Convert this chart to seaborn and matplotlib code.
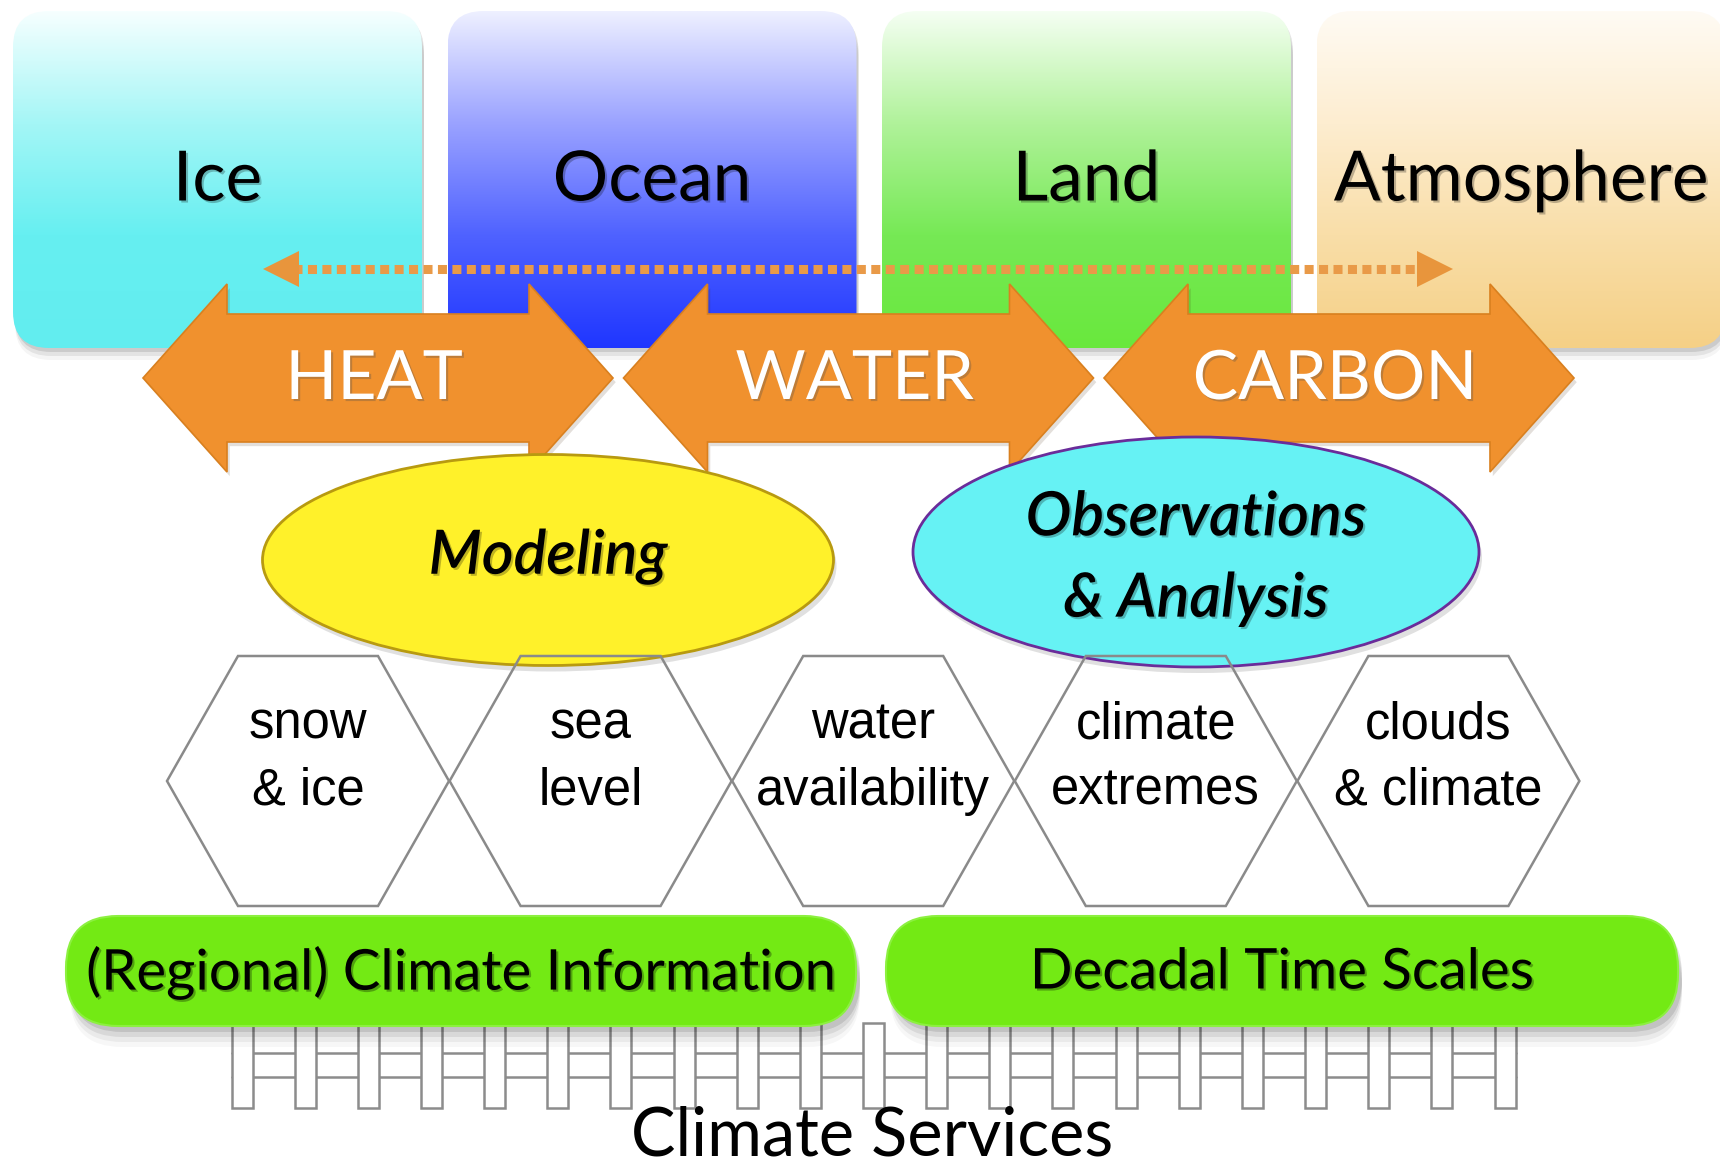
import numpy as np
import matplotlib
matplotlib.use("Agg")
import matplotlib.pyplot as plt
import matplotlib.patheffects as pe
from matplotlib.patches import FancyBboxPatch, Polygon, Ellipse, Rectangle
import seaborn as sns

sns.set_style("white")
plt.rcParams['font.family'] = ['Lato', 'DejaVu Sans']

# -------------------------------------------------
# Diagram content
# -------------------------------------------------
realms = ["Ice", "Ocean", "Land", "Atmosphere"]
realm_colors = [
    ["#F6FFFF", "#A4F6F6", "#66EFF1", "#62EDEF"],
    ["#EEF0FF", "#9AA2FF", "#4F62FF", "#1F36FF"],
    ["#F5FFF3", "#B0F29A", "#76E955", "#69E83D"],
    ["#FFFBF4", "#FDEDD0", "#F9DEA8", "#F5D086"],
]
fluxes = ["HEAT", "WATER", "CARBON"]
activities = ["Modeling", "Observations\n& Analysis"]
activity_colors = ["#FFF12A", "#66F2F4"]
activity_edges = ["#B89A10", "#6A2C9A"]
challenges = ["snow\n& ice", "sea\nlevel", "water\navailability",
              "climate\nextremes", "clouds\n& climate"]
outcomes = ["(Regional) Climate Information", "Decadal Time Scales"]
n_ties = 21
footer = "Climate Services"

ORANGE = "#F0912E"
GREEN = "#73EA14"
W, H = 1720, 1176

fig = plt.figure(figsize=(W / 100, H / 100), dpi=100)
ax = fig.add_axes([0, 0, 1, 1])
ax.set_axis_off()

# -------------------------------------------------
# Realm boxes with vertical gradients
# -------------------------------------------------
box_w, box_gap, box_top, box_bot = 409, 25.5, 11, 348
for i, (name, cols) in enumerate(zip(realms, realm_colors)):
    x0 = 13 + i * (box_w + box_gap)
    for k, a in enumerate([0.10, 0.07, 0.04]):
        sh = FancyBboxPatch((x0 + 2, box_top + 4 + 4 * k), box_w, box_bot - box_top,
                            boxstyle="round,pad=0,rounding_size=36",
                            fc="black", ec="none", alpha=a, zorder=0.5)
        ax.add_patch(sh)
    patch = FancyBboxPatch((x0, box_top), box_w, box_bot - box_top,
                           boxstyle="round,pad=0,rounding_size=36",
                           fc="none", ec="none", zorder=1)
    ax.add_patch(patch)
    cmap = sns.blend_palette(cols, as_cmap=True)
    grad = np.linspace(0, 1, 256).reshape(-1, 1)
    im = ax.imshow(grad, cmap=cmap, aspect="auto", origin="upper",
                   extent=[x0, x0 + box_w, box_bot, box_top], zorder=1)
    im.set_clip_path(patch)
    ax.text(x0 + box_w / 2, 181, name, ha="center", va="center",
            fontsize=50, color="black", zorder=6,
            path_effects=[pe.withSimplePatchShadow(offset=(1.5, -1.5), alpha=0.25)])

# -------------------------------------------------
# Dotted connector arrow across the realms
# -------------------------------------------------
dot_y, dot_x0, dot_x1 = 269, 263, 1453
ax.plot([dot_x0 + 30, dot_x1 - 30], [dot_y, dot_y], color="#E99A48", lw=6.5,
        dashes=(1.0, 0.6), solid_capstyle="butt", zorder=2)
ax.add_patch(Polygon([[dot_x0, dot_y], [dot_x0 + 36, dot_y - 18], [dot_x0 + 36, dot_y + 18]],
                     closed=True, fc="#E8953C", ec="none", zorder=2))
ax.add_patch(Polygon([[dot_x1, dot_y], [dot_x1 - 36, dot_y - 18], [dot_x1 - 36, dot_y + 18]],
                     closed=True, fc="#E8953C", ec="none", zorder=2))

# -------------------------------------------------
# Double-headed flux arrows
# -------------------------------------------------
arr_y, arr_len, arr_step, arr_x0 = 378, 470, 480.5, 143
hl, hh, hb = 84, 94, 64
for i, name in enumerate(fluxes):
    a0 = arr_x0 + i * arr_step
    a1 = a0 + arr_len
    pts = [[a0, arr_y], [a0 + hl, arr_y - hh], [a0 + hl, arr_y - hb],
           [a1 - hl, arr_y - hb], [a1 - hl, arr_y - hh], [a1, arr_y],
           [a1 - hl, arr_y + hh], [a1 - hl, arr_y + hb], [a0 + hl, arr_y + hb],
           [a0 + hl, arr_y + hh]]
    ax.add_patch(Polygon(pts, closed=True, fc=ORANGE, ec="#D9801F", lw=1.2, zorder=3,
                         path_effects=[pe.withSimplePatchShadow(offset=(2, -3), alpha=0.15)]))
    ax.text((a0 + a1) / 2 - 4, arr_y + 2, name, ha="center", va="center",
            fontsize=49, color="white", zorder=4,
            path_effects=[pe.withSimplePatchShadow(offset=(1.5, -1.5), alpha=0.3)])

# -------------------------------------------------
# Activity ellipses
# -------------------------------------------------
ell_centers = [(548, 560), (1196, 552)]
ell_sizes = [(571, 211), (566, 230)]
text_y = [556, 558]
for (cx, cy), (ew, eh), ty, name, fc, ec in zip(ell_centers, ell_sizes, text_y, activities,
                                                activity_colors, activity_edges):
    ax.add_patch(Ellipse((cx + 3, cy + 6), ew, eh, fc="black", ec="none", alpha=0.12, zorder=4.5))
    ax.add_patch(Ellipse((cx, cy), ew, eh, fc=fc, ec=ec, lw=2, zorder=5))
    ax.text(cx, ty, name, ha="center", va="center", fontsize=44,
            style="italic", weight="semibold", color="black", linespacing=1.55, zorder=6,
            path_effects=[pe.withSimplePatchShadow(offset=(1.5, -1.5), alpha=0.25)])

# -------------------------------------------------
# Challenge hexagons
# -------------------------------------------------
hex_cy, hex_x0, hex_step = 781, 308, 282.6
hx, hq, hy = 141, 70, 125
for i, name in enumerate(challenges):
    cx = hex_x0 + i * hex_step
    pts = [[cx - hx, hex_cy], [cx - hq, hex_cy - hy], [cx + hq, hex_cy - hy],
           [cx + hx, hex_cy], [cx + hq, hex_cy + hy], [cx - hq, hex_cy + hy]]
    ax.add_patch(Polygon(pts, closed=True, fc="none", ec="#8A8A8A", lw=1.8, zorder=7))
    ax.text(cx, 758, name, ha="center", va="center", fontsize=36.5,
            family=["Liberation Sans", "DejaVu Sans"],
            color="black", linespacing=1.45, zorder=8)

# -------------------------------------------------
# Green outcome bars
# -------------------------------------------------
bar_x = [(66, 856), (886, 1678)]
bar_top, bar_bot = 916, 1026
for (x0, x1), name in zip(bar_x, outcomes):
    for k, a in enumerate([0.10, 0.07, 0.05, 0.03]):
        ax.add_patch(FancyBboxPatch((x0 + 4, bar_top + 6 + 5 * k), x1 - x0, bar_bot - bar_top,
                                    boxstyle="round,pad=0,rounding_size=52",
                                    fc="black", ec="none", alpha=a, zorder=8.5))
    ax.add_patch(FancyBboxPatch((x0, bar_top), x1 - x0, bar_bot - bar_top,
                                boxstyle="round,pad=0,rounding_size=52",
                                fc=GREEN, ec="#8CF040", lw=1.5, zorder=9))
    ax.text((x0 + x1) / 2, 973, name, ha="center", va="center", fontsize=40.5,
            color="black", zorder=10,
            path_effects=[pe.withSimplePatchShadow(offset=(1.5, -1.5), alpha=0.3)])

# -------------------------------------------------
# Rail track
# -------------------------------------------------
tie_x0, tie_step, tie_w = 242, 63.15, 21
tie_top, tie_bot = 1023, 1108
rail_l = tie_x0 - tie_w / 2
rail_r = tie_x0 + (n_ties - 1) * tie_step + tie_w / 2
for ry in (1053, 1077):
    ax.plot([rail_l, rail_r], [ry, ry], color="#8C8C8C", lw=1.8, zorder=7.8)
for i in range(n_ties):
    tx = tie_x0 + i * tie_step
    ax.add_patch(Rectangle((tx - tie_w / 2, tie_top), tie_w, tie_bot - tie_top,
                           fc="white", ec="#8C8C8C", lw=1.8, zorder=8))

ax.text(872, 1136, footer, ha="center", va="center", fontsize=48, color="black", zorder=10)

ax.set_xlim(0, W)
ax.set_ylim(H, 0)
fig.savefig("out.png", dpi=100)
